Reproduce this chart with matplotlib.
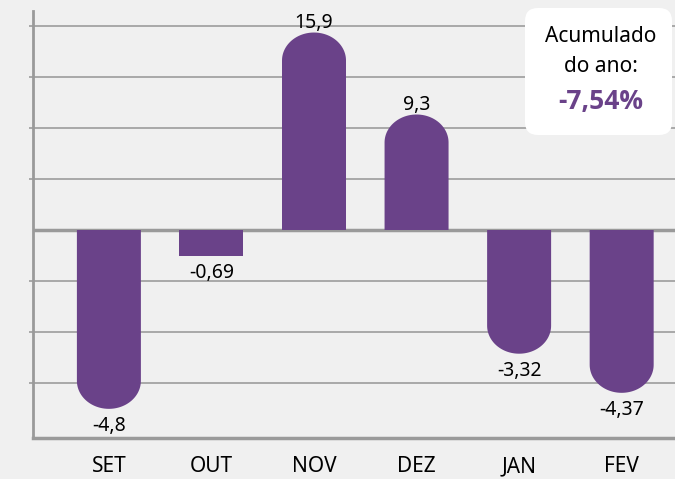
import numpy as np
import matplotlib.pyplot as plt
from matplotlib.path import Path
from matplotlib.patches import PathPatch, FancyBboxPatch
from matplotlib.transforms import IdentityTransform

months = ['SET', 'OUT', 'NOV', 'DEZ', 'JAN', 'FEV']
values = [-4.8, -0.69, 15.9, 9.3, -3.32, -4.37]
value_labels = ['-4,8', '-0,69', '15,9', '9,3', '-3,32', '-4,37']
acumulado = '-7,54%'

purple = '#6a4289'
bg = '#f0f0f0'
grey = '#a3a3a3'

plt.rcParams['font.family'] = ['Noto Sans', 'DejaVu Sans']

# negative side of the chart is stretched (as in the original infographic)
NEG = 3.0


def fwd(y):
    y = np.asarray(y, dtype=float)
    return np.where(y < 0, y * NEG, y)


def inv(t):
    t = np.asarray(t, dtype=float)
    return np.where(t < 0, t / NEG, t)


PX = 12.42  # pixels per transformed unit
fig = plt.figure(figsize=(6.75, 4.79), dpi=100, facecolor=bg)
ax = fig.add_axes([33 / 675, 1 - 438 / 479, 1 - 33 / 675, (438 - 11) / 479])
ax.set_facecolor(bg)
ax.set_yscale('function', functions=(fwd, inv))
ax.set_xlim(-0.74, 5.52)
ax.set_ylim(float(inv(-(438 - 230) / PX)), (230 - 11) / PX)

step = 51 / PX
yt = [float(inv(k * step)) for k in range(-3, 5) if k != 0]
ax.set_yticks(yt)
ax.set_yticklabels([])
ax.tick_params(axis='y', length=3, width=1.3, color=grey)
ax.yaxis.grid(True, color=grey, lw=1.3)
ax.set_axisbelow(True)
ax.axhline(0, color='#9a9a9a', lw=2.5, zorder=1)

for s in ['top', 'right']:
    ax.spines[s].set_visible(False)
ax.spines['left'].set_color('#9a9a9a')
ax.spines['left'].set_linewidth(2)
ax.spines['bottom'].set_color('#9a9a9a')
ax.spines['bottom'].set_linewidth(2.5)

ax.set_xticks(range(len(months)))
ax.set_xticklabels(months, fontsize=15)
ax.tick_params(axis='x', length=0, pad=13)

# bars with rounded ends
w = 0.624
cap = 28 / PX
for i, v in enumerate(values):
    t = float(fwd(v))
    sgn = 1 if t > 0 else -1
    x0, x1 = i - w / 2, i + w / 2
    if abs(t) > cap * 1.2:
        tc = t - sgn * cap
        th = np.linspace(np.pi, 0, 60)
        xs = list(i + (w / 2) * np.cos(th))
        ts = list(tc + sgn * cap * np.sin(th))
        verts = [(x0, 0)] + list(zip(xs, ts)) + [(x1, 0), (x0, 0)]
    else:
        verts = [(x0, 0), (x0, t), (x1, t), (x1, 0), (x0, 0)]
    verts = [(x, float(inv(tt))) for x, tt in verts]
    ax.add_patch(PathPatch(Path(verts), fc=purple, ec='none', zorder=3))
    if v > 0:
        ax.annotate(value_labels[i], (i, v), xytext=(0, 3.5), textcoords='offset points',
                    ha='center', va='baseline', fontsize=14)
    else:
        ax.annotate(value_labels[i], (i, v), xytext=(0, -5.5), textcoords='offset points',
                    ha='center', va='top', fontsize=14)

# accumulated box
box = FancyBboxPatch((525, 479 - 135), 147, 127, boxstyle='round,pad=0,rounding_size=13',
                     transform=IdentityTransform(), fc='white', ec='none', zorder=5)
fig.add_artist(box)
fig.text(601 / 675, 1 - 37 / 479, 'Acumulado', ha='center', va='center', fontsize=15, zorder=6)
fig.text(601 / 675, 1 - 67 / 479, 'do ano:', ha='center', va='center', fontsize=15, zorder=6)
fig.text(601 / 675, 1 - 101 / 479, acumulado, ha='center', va='center', fontsize=19,
         fontweight='bold', family=['Open Sans', 'DejaVu Sans'], color=purple, zorder=6)

fig.savefig('out.png', dpi=100, facecolor=bg)
